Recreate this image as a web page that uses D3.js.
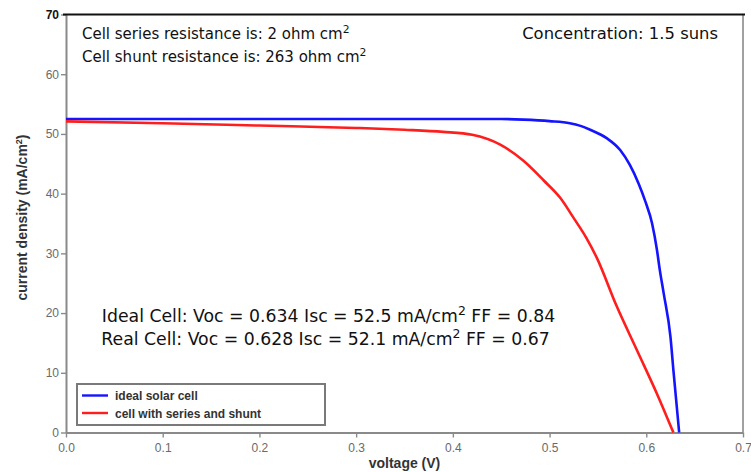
<!DOCTYPE html>
<html>
<head>
<meta charset="utf-8">
<script src="https://cdn.jsdelivr.net/npm/d3@7"></script>
<style>
  html, body { margin: 0; padding: 0; background: #fff; }
  svg { display: block; }
</style>
</head>
<body>
<div id="chart"></div>
<script>
// Voltage (V) and current density (mA/cm²) samples for the two J–V curves
const idealV = [0.0, 0.1, 0.2, 0.3, 0.4, 0.45, 0.473, 0.50, 0.521, 0.532, 0.542, 0.559, 0.573, 0.583, 0.592, 0.599, 0.606, 0.611, 0.614, 0.618, 0.625, 0.628, 0.634];
const idealJ = [52.5, 52.5, 52.5, 52.5, 52.5, 52.5, 52.4, 52.15, 51.8, 51.35, 50.7, 49.3, 47.3, 44.8, 41.7, 38.7, 35.0, 30.6, 27.2, 23.3, 16.0, 10.5, 0.0];

const realV = [0.0, 0.1, 0.2, 0.3, 0.35, 0.39, 0.42, 0.449, 0.473, 0.494, 0.511, 0.525, 0.538, 0.549, 0.569, 0.590, 0.611, 0.628];
const realJ = [52.1, 51.8, 51.4, 51.0, 50.7, 50.35, 49.85, 48.2, 45.5, 42.2, 39.3, 35.9, 32.6, 29.2, 21.3, 13.9, 6.5, 0.0];

const xTicks = [0.0, 0.1, 0.2, 0.3, 0.4, 0.5, 0.6, 0.7];
const yTicks = [0, 10, 20, 30, 40, 50, 60, 70];

const seriesNames = ["ideal solar cell", "cell with series and shunt"];
const seriesColors = ["#1414ff", "#ff1e1e"];

const W = 751, H = 472;
const m = { left: 66, right: 8, top: 14.5, bottom: 39.5 };

const svg = d3.select("#chart").append("svg")
  .attr("width", W).attr("height", H);

const x = d3.scaleLinear().domain([0, 0.7]).range([m.left, W - m.right]);
const y = d3.scaleLinear().domain([0, 70]).range([H - m.bottom, m.top]);

const axisColor = "#8a8a8a";
const tickText = "#6a6a6a";

// right frame edge
svg.append("line")
  .attr("x1", x(0.7)).attr("x2", x(0.7))
  .attr("y1", y(70)).attr("y2", y(0))
  .attr("stroke", axisColor).attr("stroke-width", 1.6);

// x axis
const gx = svg.append("g")
  .attr("transform", `translate(0,${y(0)})`)
  .call(d3.axisBottom(x).tickValues(xTicks).tickFormat(d3.format(".1f")).tickSize(5).tickSizeOuter(0));
gx.select(".domain").attr("stroke", axisColor).attr("stroke-width", 2);
gx.selectAll(".tick line").attr("stroke", axisColor).attr("stroke-width", 1.4);
gx.selectAll(".tick text")
  .attr("fill", tickText).attr("font-family", "Liberation Sans, Arial, sans-serif")
  .attr("font-size", 12).attr("dy", "0.95em");

// y axis
const gy = svg.append("g")
  .attr("transform", `translate(${x(0)},0)`)
  .call(d3.axisLeft(y).tickValues(yTicks).tickSize(5).tickSizeOuter(0));
gy.select(".domain").attr("stroke", axisColor).attr("stroke-width", 2);
gy.selectAll(".tick line").attr("stroke", axisColor).attr("stroke-width", 1.4);
gy.selectAll(".tick text")
  .attr("fill", tickText).attr("font-family", "Liberation Sans, Arial, sans-serif")
  .attr("font-size", 12).attr("x", -7);
gy.selectAll(".tick").filter(d => d === 70).select("text")
  .attr("fill", "#111").attr("font-weight", "bold");

// top frame edge
svg.append("line")
  .attr("x1", x(0) - 3).attr("x2", x(0.7) + 2)
  .attr("y1", y(70)).attr("y2", y(70))
  .attr("stroke", "#111").attr("stroke-width", 2.2);

// axis titles
svg.append("text")
  .attr("x", (x(0) + x(0.7)) / 2).attr("y", 468)
  .attr("text-anchor", "middle")
  .attr("font-family", "Liberation Sans, Arial, sans-serif")
  .attr("font-size", 14).attr("font-weight", "bold").attr("fill", "#333")
  .text("voltage (V)");

const yl = svg.append("text")
  .attr("transform", `translate(27,${(y(0) + y(70)) / 2 - 6}) rotate(-90)`)
  .attr("text-anchor", "middle")
  .attr("font-family", "Liberation Sans, Arial, sans-serif")
  .attr("font-size", 14).attr("font-weight", "bold").attr("fill", "#333");
yl.append("tspan").text("current density (mA/cm");
yl.append("tspan").attr("font-size", 9).attr("dy", -5).text("2");
yl.append("tspan").attr("dy", 5).text(")");

// curves
const line = d3.line().x(d => x(d[0])).y(d => y(d[1])).curve(d3.curveMonotoneX);
const curves = [
  d3.zip(idealV, idealJ),
  d3.zip(realV, realJ)
];
curves.forEach((pts, i) => {
  svg.append("path")
    .datum(pts)
    .attr("d", line)
    .attr("fill", "none")
    .attr("stroke", seriesColors[i])
    .attr("stroke-width", 2.6)
    .attr("stroke-linejoin", "round");
});

// annotations: plain strings, and {superscript: "..."} parts
const annFont = "DejaVu Sans, Verdana, sans-serif";
function annot(tx, ty, anchor, size, parts) {
  const t = svg.append("text")
    .attr("x", tx).attr("y", ty)
    .attr("text-anchor", anchor)
    .attr("font-family", annFont).attr("font-size", size).attr("fill", "#111");
  let raised = false;
  parts.forEach(p => {
    if (typeof p === "object") {
      t.append("tspan").attr("font-size", size * 0.72).attr("dy", -size * 0.42).text(p.superscript);
      raised = true;
    } else {
      const s = t.append("tspan").text(p);
      if (raised) { s.attr("dy", size * 0.42); raised = false; }
    }
  });
}
annot(82, 39, "start", 15, ["Cell series resistance is: 2 ohm cm", { superscript: "2" }]);
annot(82, 62, "start", 15, ["Cell shunt resistance is: 263 ohm cm", { superscript: "2" }]);
annot(718, 39, "end", 16.4, ["Concentration: 1.5 suns"]);
annot(328.5, 322, "middle", 17.3, ["Ideal Cell: Voc = 0.634 Isc = 52.5 mA/cm", { superscript: "2" }, " FF = 0.84"]);
annot(325.5, 345, "middle", 17.3, ["Real Cell: Voc = 0.628 Isc = 52.1 mA/cm", { superscript: "2" }, " FF = 0.67"]);

// legend
const lg = svg.append("g").attr("transform", "translate(77,384)");
lg.append("rect")
  .attr("width", 248).attr("height", 41)
  .attr("fill", "#fff").attr("stroke", "#7a7a7a").attr("stroke-width", 2);
seriesNames.forEach((name, i) => {
  const yy = 11.5 + i * 17.5;
  lg.append("line")
    .attr("x1", 5).attr("x2", 31).attr("y1", yy).attr("y2", yy)
    .attr("stroke", seriesColors[i]).attr("stroke-width", 2.4);
  lg.append("text")
    .attr("x", 38).attr("y", yy + 4.5)
    .attr("font-family", "Liberation Sans, Arial, sans-serif")
    .attr("font-size", 12).attr("font-weight", "bold").attr("fill", "#333")
    .text(name);
});
</script>
</body>
</html>
